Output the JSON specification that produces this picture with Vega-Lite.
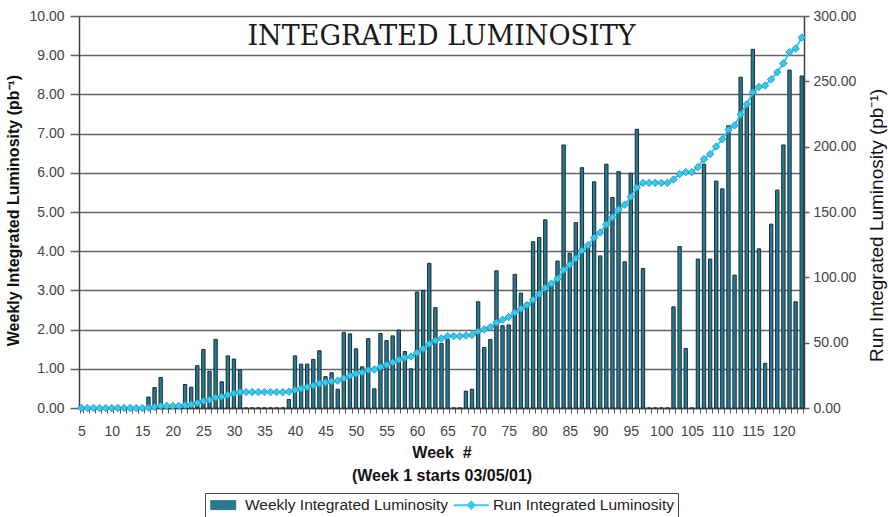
{
  "$schema": "https://vega.github.io/schema/vega-lite/v6.json",
  "autosize": "none",
  "width": 725,
  "height": 392,
  "padding": {"left": 79, "top": 16, "right": 84, "bottom": 109},
  "background": "#ffffff",
  "title": {
    "text": "INTEGRATED LUMINOSITY",
    "font": "DejaVu Serif",
    "fontSize": 27,
    "fontWeight": "normal",
    "color": "#1a1a1a",
    "anchor": "middle",
    "frame": "group",
    "baseline": "alphabetic",
    "offset": -30,
    "dy": 33
  },
  "data": {
    "values": [
      {"week": 5, "weekly": 0, "run": 0},
      {"week": 6, "weekly": 0, "run": 0},
      {"week": 7, "weekly": 0, "run": 0},
      {"week": 8, "weekly": 0, "run": 0},
      {"week": 9, "weekly": 0, "run": 0},
      {"week": 10, "weekly": 0, "run": 0},
      {"week": 11, "weekly": 0, "run": 0},
      {"week": 12, "weekly": 0, "run": 0},
      {"week": 13, "weekly": 0, "run": 0},
      {"week": 14, "weekly": 0, "run": 0},
      {"week": 15, "weekly": 0, "run": 0},
      {"week": 16, "weekly": 0.28, "run": 0.28},
      {"week": 17, "weekly": 0.52, "run": 0.80},
      {"week": 18, "weekly": 0.78, "run": 1.58},
      {"week": 19, "weekly": 0, "run": 1.58},
      {"week": 20, "weekly": 0, "run": 1.58},
      {"week": 21, "weekly": 0, "run": 1.58},
      {"week": 22, "weekly": 0.60, "run": 2.18},
      {"week": 23, "weekly": 0.53, "run": 2.71},
      {"week": 24, "weekly": 1.08, "run": 3.79},
      {"week": 25, "weekly": 1.49, "run": 5.28},
      {"week": 26, "weekly": 0.94, "run": 6.22},
      {"week": 27, "weekly": 1.75, "run": 7.97},
      {"week": 28, "weekly": 0.67, "run": 8.64},
      {"week": 29, "weekly": 1.33, "run": 9.97},
      {"week": 30, "weekly": 1.25, "run": 11.22},
      {"week": 31, "weekly": 0.97, "run": 12.19},
      {"week": 32, "weekly": 0, "run": 12.19},
      {"week": 33, "weekly": 0, "run": 12.19},
      {"week": 34, "weekly": 0, "run": 12.19},
      {"week": 35, "weekly": 0, "run": 12.19},
      {"week": 36, "weekly": 0, "run": 12.19},
      {"week": 37, "weekly": 0, "run": 12.19},
      {"week": 38, "weekly": 0, "run": 12.19},
      {"week": 39, "weekly": 0.22, "run": 12.41},
      {"week": 40, "weekly": 1.33, "run": 13.74},
      {"week": 41, "weekly": 1.12, "run": 14.86},
      {"week": 42, "weekly": 1.12, "run": 15.98},
      {"week": 43, "weekly": 1.24, "run": 17.22},
      {"week": 44, "weekly": 1.46, "run": 18.68},
      {"week": 45, "weekly": 0.80, "run": 19.48},
      {"week": 46, "weekly": 0.90, "run": 20.38},
      {"week": 47, "weekly": 0.48, "run": 20.86},
      {"week": 48, "weekly": 1.93, "run": 22.79},
      {"week": 49, "weekly": 1.89, "run": 24.68},
      {"week": 50, "weekly": 1.51, "run": 26.19},
      {"week": 51, "weekly": 1.05, "run": 27.24},
      {"week": 52, "weekly": 1.77, "run": 29.01},
      {"week": 53, "weekly": 0.49, "run": 29.50},
      {"week": 54, "weekly": 1.90, "run": 31.40},
      {"week": 55, "weekly": 1.72, "run": 33.12},
      {"week": 56, "weekly": 1.84, "run": 34.96},
      {"week": 57, "weekly": 1.99, "run": 36.95},
      {"week": 58, "weekly": 1.44, "run": 38.39},
      {"week": 59, "weekly": 1.00, "run": 39.39},
      {"week": 60, "weekly": 2.96, "run": 42.35},
      {"week": 61, "weekly": 3.00, "run": 45.35},
      {"week": 62, "weekly": 3.69, "run": 49.04},
      {"week": 63, "weekly": 2.56, "run": 51.60},
      {"week": 64, "weekly": 1.65, "run": 53.25},
      {"week": 65, "weekly": 1.75, "run": 55.00},
      {"week": 66, "weekly": 0, "run": 55.00},
      {"week": 67, "weekly": 0, "run": 55.00},
      {"week": 68, "weekly": 0.43, "run": 55.43},
      {"week": 69, "weekly": 0.48, "run": 55.91},
      {"week": 70, "weekly": 2.71, "run": 58.62},
      {"week": 71, "weekly": 1.54, "run": 60.16},
      {"week": 72, "weekly": 1.75, "run": 61.91},
      {"week": 73, "weekly": 3.50, "run": 65.41},
      {"week": 74, "weekly": 2.10, "run": 67.51},
      {"week": 75, "weekly": 2.12, "run": 69.63},
      {"week": 76, "weekly": 3.41, "run": 73.04},
      {"week": 77, "weekly": 2.93, "run": 75.97},
      {"week": 78, "weekly": 2.68, "run": 78.65},
      {"week": 79, "weekly": 4.24, "run": 82.89},
      {"week": 80, "weekly": 4.35, "run": 87.24},
      {"week": 81, "weekly": 4.80, "run": 92.04},
      {"week": 82, "weekly": 3.15, "run": 95.19},
      {"week": 83, "weekly": 3.75, "run": 98.94},
      {"week": 84, "weekly": 6.71, "run": 105.65},
      {"week": 85, "weekly": 3.95, "run": 109.60},
      {"week": 86, "weekly": 4.73, "run": 114.33},
      {"week": 87, "weekly": 6.13, "run": 120.46},
      {"week": 88, "weekly": 4.16, "run": 124.62},
      {"week": 89, "weekly": 5.77, "run": 130.39},
      {"week": 90, "weekly": 3.88, "run": 134.27},
      {"week": 91, "weekly": 6.22, "run": 140.49},
      {"week": 92, "weekly": 5.37, "run": 145.86},
      {"week": 93, "weekly": 6.03, "run": 151.89},
      {"week": 94, "weekly": 3.73, "run": 155.62},
      {"week": 95, "weekly": 5.99, "run": 161.61},
      {"week": 96, "weekly": 7.11, "run": 168.72},
      {"week": 97, "weekly": 3.56, "run": 172.28},
      {"week": 98, "weekly": 0, "run": 172.28},
      {"week": 99, "weekly": 0, "run": 172.28},
      {"week": 100, "weekly": 0, "run": 172.28},
      {"week": 101, "weekly": 0, "run": 172.28},
      {"week": 102, "weekly": 2.58, "run": 174.86},
      {"week": 103, "weekly": 4.12, "run": 178.98},
      {"week": 104, "weekly": 1.52, "run": 180.50},
      {"week": 105, "weekly": 0, "run": 180.50},
      {"week": 106, "weekly": 3.80, "run": 184.30},
      {"week": 107, "weekly": 6.22, "run": 190.52},
      {"week": 108, "weekly": 3.80, "run": 194.32},
      {"week": 109, "weekly": 5.79, "run": 200.11},
      {"week": 110, "weekly": 5.59, "run": 205.70},
      {"week": 111, "weekly": 7.20, "run": 212.90},
      {"week": 112, "weekly": 3.39, "run": 216.29},
      {"week": 113, "weekly": 8.44, "run": 224.73},
      {"week": 114, "weekly": 7.70, "run": 232.43},
      {"week": 115, "weekly": 9.15, "run": 241.58},
      {"week": 116, "weekly": 4.06, "run": 245.64},
      {"week": 117, "weekly": 1.14, "run": 246.78},
      {"week": 118, "weekly": 4.69, "run": 251.47},
      {"week": 119, "weekly": 5.56, "run": 257.03},
      {"week": 120, "weekly": 6.71, "run": 263.74},
      {"week": 121, "weekly": 8.62, "run": 272.36},
      {"week": 122, "weekly": 2.71, "run": 275.07},
      {"week": 123, "weekly": 8.47, "run": 283.54}
    ]
  },
  "encoding": {
    "x": {
      "field": "week",
      "type": "ordinal",
      "scale": {"paddingInner": 0.45, "paddingOuter": 0.1},
      "axis": {
        "labelExpr": "datum.value % 5 === 0 ? datum.label : ''",
        "labelOverlap": false,
        "labelAngle": 0,
        "labelFont": "Liberation Sans",
        "labelFontSize": 14,
        "labelColor": "#444444",
        "labelPadding": 11,
        "tickBand": "extent",
        "tickSize": 5,
        "tickColor": "#555555",
        "domainColor": "#404040",
        "domainWidth": 1.5,
        "title": ["Week \u00a0#", "(Week 1 starts 03/05/01)"],
        "titleFont": "Liberation Sans",
        "titleFontSize": 16,
        "titleFontWeight": "bold",
        "titleColor": "#111111",
        "titleLineHeight": 23,
        "titlePadding": 6
      }
    }
  },
  "layer": [
    {
      "mark": {"type": "bar", "stroke": "#15303a", "strokeWidth": 1},
      "encoding": {
        "y": {
          "field": "weekly",
          "type": "quantitative",
          "scale": {"domain": [0, 10], "nice": false},
          "axis": {
            "orient": "left",
            "values": [0, 1, 2, 3, 4, 5, 6, 7, 8, 9, 10],
            "format": ".2f",
            "grid": true,
            "gridColor": "#666666",
            "gridWidth": 1.6,
            "labelFont": "Liberation Sans",
            "labelFontSize": 14,
            "labelColor": "#444444",
            "labelPadding": 6,
            "tickSize": 9,
            "tickColor": "#606060",
            "tickWidth": 1.5,
            "domainColor": "#404040",
            "domainWidth": 1.5,
            "title": "Weekly Integrated Luminosity (pb\u207b\u00b9)",
            "titleFont": "Liberation Sans",
            "titleFontSize": 16,
            "titleFontWeight": "bold",
            "titleColor": "#111111",
            "titleAngle": 270,
            "titleX": -66,
            "titleY": 194,
            "titleBaseline": "middle",
            "titleAlign": "center"
          }
        },
        "color": {
          "datum": "Weekly Integrated Luminosity",
          "scale": {
            "domain": ["Weekly Integrated Luminosity", "Run Integrated Luminosity"],
            "range": ["#2a7890", "#33CCEE"]
          },
          "legend": {
            "orient": "none",
            "legendX": 126,
            "legendY": 477,
            "direction": "horizontal",
            "title": null,
            "labelFont": "Liberation Sans",
            "labelFontSize": 15.5,
            "labelColor": "#222222",
            "labelLimit": 400,
            "labelOffset": 14,
            "symbolOffset": 6.5,
            "symbolSize": 1225,
            "symbolType": "M-0.714,-0.257L0.714,-0.257L0.714,0.257L-0.714,0.257Z",
            "strokeColor": "#444444",
            "fillColor": "#ffffff",
            "padding": 4,
            "columnPadding": 0,
            "encoding": {
              "symbols": {
                "shape": {"value": {"signal": "datum.value === 'Run Integrated Luminosity' ? 'M-1,0L1,0M0,-0.2L0.2,0L0,0.2L-0.2,0Z' : 'M-0.714,-0.257L0.714,-0.257L0.714,0.257L-0.714,0.257Z'"}},
                "fill": {"value": {"signal": "datum.value === 'Run Integrated Luminosity' ? '#33CCEE' : '#22CCFF'"}},
                "stroke": {"value": {"signal": "datum.value === 'Run Integrated Luminosity' ? '#33CCEE' : '#15303a'"}},
                "strokeWidth": {"value": {"signal": "datum.value === 'Run Integrated Luminosity' ? 2 : 1"}}
              }
            }
          }
        }
      }
    },
    {
      "mark": {
        "type": "line",
        "strokeWidth": 2,
        "point": {"shape": "diamond", "size": 55, "filled": true, "stroke": "#1b8cb3", "strokeWidth": 0.8}
      },
      "encoding": {
        "y": {
          "field": "run",
          "type": "quantitative",
          "scale": {"domain": [0, 300], "nice": false},
          "axis": {
            "orient": "right",
            "values": [0, 50, 100, 150, 200, 250, 300],
            "format": ".2f",
            "grid": false,
            "labelFont": "Liberation Sans",
            "labelFontSize": 14,
            "labelColor": "#444444",
            "labelPadding": 4,
            "tickSize": 5,
            "tickColor": "#606060",
            "tickWidth": 1.5,
            "domainColor": "#404040",
            "domainWidth": 1.5,
            "title": "Run Integrated Luminosity (pb\u207b\u00b9)",
            "titleFont": "Liberation Sans",
            "titleFontSize": 19,
            "titleFontWeight": "normal",
            "titleColor": "#111111",
            "titleAngle": 270,
            "titleX": 72,
            "titleY": 209,
            "titleBaseline": "middle",
            "titleAlign": "center"
          }
        },
        "color": {"datum": "Run Integrated Luminosity"}
      }
    }
  ],
  "resolve": {"scale": {"y": "independent"}},
  "config": {"view": {"stroke": null}}
}
